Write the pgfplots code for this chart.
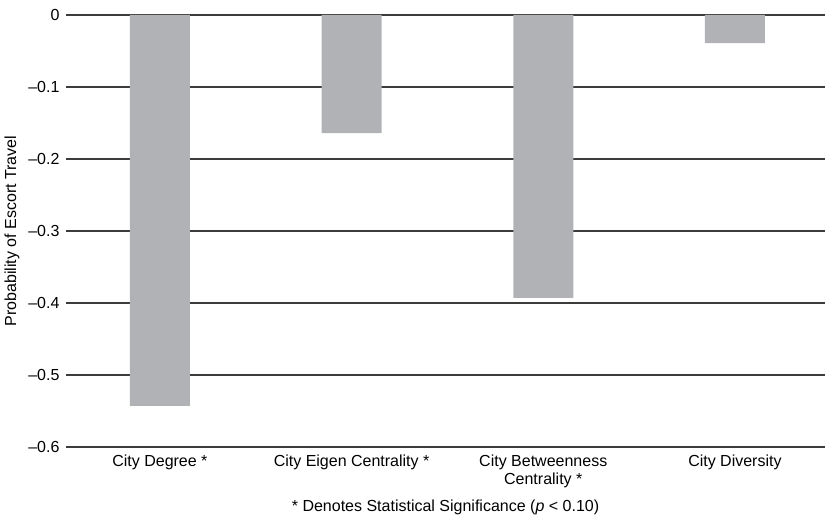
\documentclass[border=0pt]{standalone}
\usepackage{fontspec}
\setmainfont{Liberation Sans}
\usepackage{pgfplots}
\pgfplotsset{compat=1.18}
\usetikzlibrary{calc}
\definecolor{barcol}{HTML}{B1B2B6}
\definecolor{gridcol}{HTML}{3C3C3C}
\begin{document}
\fontsize{16}{19}\selectfont
\begin{tikzpicture}
\begin{axis}[
  scale only axis,
  width=759pt, height=432pt,
  xmin=-0.49, xmax=3.47,
  ymin=-0.6, ymax=0,
  ybar, bar width=60pt,
  axis line style={draw=none},
  major tick length=0pt,
  xtick={0,1,2,3},
  xticklabels={City Degree *, City Eigen Centrality *, {City Betweenness\\Centrality *}, City Diversity},
  xticklabel style={align=center, font=\fontsize{16}{18}\selectfont, yshift=-2pt},
  ytick={-0.6,-0.5,-0.4,-0.3,-0.2,-0.1,0},
  yticklabels={\textendash0.6,\textendash0.5,\textendash0.4,\textendash0.3,\textendash0.2,\textendash0.1,0},
  yticklabel style={font=\fontsize{16}{18}\selectfont, xshift=-1pt},
  ymajorgrids,
  grid style={gridcol, line width=1.1pt},
  clip=false,
]
\addplot[fill=barcol, draw=none] coordinates {(0,-0.543) (1,-0.164) (2,-0.393) (3,-0.039)};
\end{axis}
\node[rotate=90, font=\fontsize{16}{18}\selectfont] at ($(current axis.west)+(-54pt,0)$) {Probability of Escort Travel};
\node[font=\fontsize{16}{18}\selectfont] at ($(current axis.south)+(0,-60pt)$) {* Denotes Statistical Significance (\textit{p} < 0.10)};
\pgfresetboundingbox
\useasboundingbox ($(current axis.south west)+(-66pt,-76pt)$) rectangle ($(current axis.north east)+(0,15pt)$);
\end{tikzpicture}
\end{document}
